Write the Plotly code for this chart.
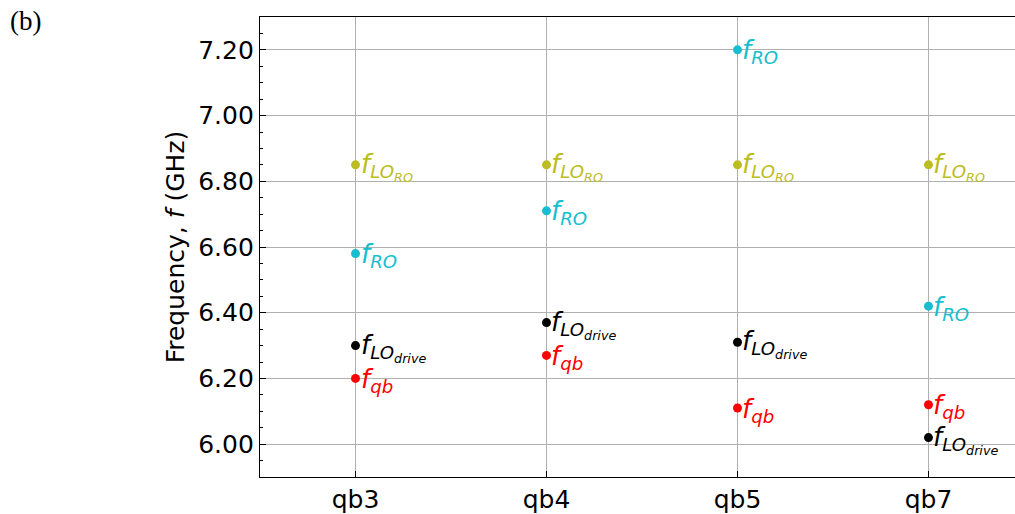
import plotly.graph_objects as go

qubits = ["qb3", "qb4", "qb5", "qb7"]
f_lo_ro = [6.85, 6.85, 6.85, 6.85]
f_ro = [6.58, 6.71, 7.20, 6.42]
f_lo_drive = [6.30, 6.37, 6.31, 6.02]
f_qb = [6.20, 6.27, 6.11, 6.12]

yticks = [6.00, 6.20, 6.40, 6.60, 6.80, 7.00, 7.20]

series = [
    (f_lo_ro, "#bcbd22", "<i>f</i><sub><i>LO<sub>RO</sub></i></sub>"),
    (f_ro, "#17becf", "<i>f</i><sub><i>RO</i></sub>"),
    (f_lo_drive, "black", "<i>f</i><sub><i>LO<sub>drive</sub></i></sub>"),
    (f_qb, "red", "<i>f</i><sub><i>qb</i></sub>"),
]

fig = go.Figure()
xidx = list(range(len(qubits)))
for vals, color, label in series:
    fig.add_trace(go.Scatter(x=xidx, y=vals, mode="markers",
                             marker=dict(color=color, size=9, line=dict(width=0)),
                             showlegend=False, hoverinfo="skip"))
    for xi, v in zip(xidx, vals):
        fig.add_annotation(x=xi, y=v, text=label, showarrow=False,
                           xanchor="left", yanchor="middle", xshift=3, yshift=-2,
                           font=dict(family="DejaVu Sans", size=26, color=color))

fig.add_annotation(x=-252 / 755, y=(477 - 4) / 460, xref="paper", yref="paper", text="(b)",
                   showarrow=False, xanchor="left", yanchor="top",
                   font=dict(family="Liberation Serif", size=27, color="black"))

fig.update_layout(
    width=1015, height=514,
    margin=dict(l=260, r=0, t=17, b=37),
    paper_bgcolor="white", plot_bgcolor="white",
    font=dict(family="DejaVu Sans", size=25, color="black"),
)
fig.update_xaxes(
    range=[-0.5, 3.453], tickmode="array", tickvals=xidx, ticktext=qubits,
    showgrid=True, gridcolor="#b0b0b0", gridwidth=1,
    showline=True, linecolor="black", linewidth=1.3, mirror=True,
    ticks="inside", ticklen=6, tickcolor="black", zeroline=False,
    tickfont=dict(size=25),
)
fig.update_yaxes(
    range=[5.9, 7.3], tickmode="array", tickvals=yticks,
    ticktext=[f"{v:.2f}" for v in yticks],
    showgrid=True, gridcolor="#b0b0b0", gridwidth=1,
    showline=True, linecolor="black", linewidth=1.3, mirror=False,
    ticks="inside", ticklen=6, tickcolor="black", zeroline=False,
    tickfont=dict(size=25),
    minor=dict(ticks="inside", ticklen=3, tickcolor="black", dtick=0.05, tick0=6.0, showgrid=False),
    title=dict(text="Frequency, <i>f</i> (GHz)", font=dict(size=25), standoff=6),
)

fig.write_html("out.html")
